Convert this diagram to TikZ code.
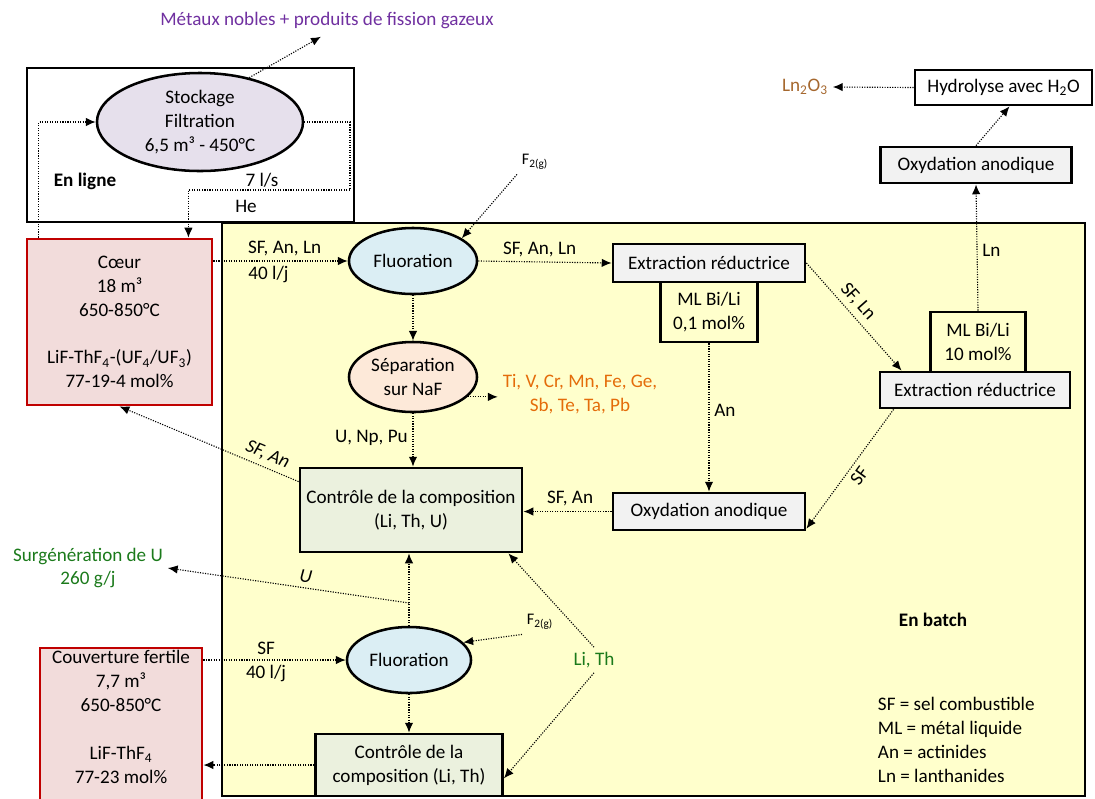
\documentclass[tikz,border=0pt]{standalone}
\usepackage{fontspec}
\setmainfont{Carlito}
\usetikzlibrary{shapes.geometric,arrows.meta}

\definecolor{jaune}{HTML}{FFFFCC}
\definecolor{rose}{HTML}{F2DCDB}
\definecolor{rouge}{HTML}{C00000}
\definecolor{lavande}{HTML}{E6E0EC}
\definecolor{bleuclair}{HTML}{DBEEF4}
\definecolor{peche}{HTML}{FDE9D9}
\definecolor{vertclair}{HTML}{EBF1DE}
\definecolor{grisclair}{HTML}{F2F2F2}
\definecolor{mauve}{HTML}{7030A0}
\definecolor{orangetxt}{HTML}{E46C0A}
\definecolor{verttxt}{HTML}{1B7A1B}
\definecolor{brun}{HTML}{A5672E}

\tikzset{
  every node/.style={font=\fontsize{13.6}{17}\selectfont},
  bold/.style={font=\fontsize{13.6}{17}\selectfont\bfseries},
  slant/.style={font=\fontsize{13.6}{17}\selectfont\itshape},
  small/.style={font=\fontsize{11.5}{13}\selectfont},
  proc/.style={shape=ellipse,draw=black,line width=1.8pt,inner sep=0pt,align=center},
  unit/.style={shape=rectangle,draw=black,line width=2pt,inner sep=0pt,align=center},
  tank/.style={shape=rectangle,draw=rouge,fill=rose,line width=2pt,inner sep=0pt,align=center},
  frame/.style={draw=black,line width=2pt},
  flow/.style={densely dotted,line width=0.8pt,-{Latex[length=7pt,width=6pt]}},
}

\begin{document}
\begin{tikzpicture}[x=0.025cm,y=-0.025cm]
\useasboundingbox (0,0) rectangle (1095,798);

% cadres
\draw[frame,fill=jaune] (222,223) rectangle (1085,796);
\draw[frame] (27,68) rectangle (354,222);

% en ligne
\node[proc,fill=lavande,minimum width=5.15cm,minimum height=2.45cm] (stock) at (200,122) {Stockage\\Filtration\\6,5 m³ - 450°C};
\node[text=mauve] (metaux) at (327,20) {Métaux nobles + produits de fission gazeux};
\node[bold] (enligne) at (85,181) {En ligne};
\node (debit) at (262,180) {7 l/s};
\node (he) at (246,206) {He};
\coordinate (c7) at (350,190);

% reservoirs
\node[tank,minimum width=4.625cm,minimum height=4.15cm] (coeur) at (119.5,322) {Cœur\\18 m³\\650-850°C\\[17pt]LiF-ThF\textsubscript{4}-(UF\textsubscript{4}/UF\textsubscript{3})\\77-19-4 mol\%};
\node[tank,minimum width=4.05cm,minimum height=4.05cm] (couv) at (121,729) {Couverture fertile\\7,7 m³\\650-850°C\\[17pt]LiF-ThF\textsubscript{4}\\77-23 mol\%\\\mbox{}};

% sel combustible
\node[small] (f2a) at (535,162) {F\textsubscript{2(g)}};
\node[proc,fill=bleuclair,minimum width=3.2cm,minimum height=1.65cm] (fluo1) at (413,261) {Fluoration};
\node[proc,fill=peche,minimum width=3.2cm,minimum height=1.75cm] (sep) at (413,377) {Séparation\\sur NaF};
\node[text=orangetxt,align=center] (tiv) at (580,394) {Ti, V, Cr, Mn, Fe, Ge,\\Sb, Te, Ta, Pb};
\node[unit,fill=vertclair,minimum width=5.55cm,minimum height=2.1cm] (ctrl1) at (411,510) {Contrôle de la composition\\(Li, Th, U)};
\node[unit,fill=grisclair,minimum width=4.8cm,minimum height=0.95cm] (extr1) at (709,263) {Extraction réductrice};
\node[unit,fill=jaune,minimum width=2.425cm,minimum height=1.5cm] (ml1) at (709,312) {ML Bi/Li\\0,1 mol\%};
\node[unit,fill=grisclair,minimum width=4.8cm,minimum height=0.925cm] (oxy1) at (709,511.5) {Oxydation anodique};
\node[unit,fill=jaune,minimum width=2.375cm,minimum height=1.5cm] (ml2) at (978,342) {ML Bi/Li\\10 mol\%};
\node[unit,fill=grisclair,minimum width=4.75cm,minimum height=0.9cm] (extr2) at (975,390) {Extraction réductrice};
\node[unit,fill=grisclair,minimum width=4.775cm,minimum height=0.9cm] (oxy2) at (976,165) {Oxydation anodique};
\node[unit,fill=white,minimum width=4.425cm,minimum height=0.875cm] (hydro) at (1003.5,87.5) {Hydrolyse avec H\textsubscript{2}O};
\node[text=brun] (ln) at (805,87) {Ln\textsubscript{2}O\textsubscript{3}};

% couverture
\node[text=verttxt,align=center] (surg) at (88,568) {Surgénération de U\\260 g/j};
\coordinate (uj) at (409,603);
\node[proc,fill=bleuclair,minimum width=3.1cm,minimum height=1.65cm] (fluo2) at (409,660) {Fluoration};
\node[small] (f2b) at (540,622) {F\textsubscript{2(g)}};
\node[unit,fill=vertclair,minimum width=4.675cm,minimum height=1.55cm] (ctrl2) at (409,765) {Contrôle de la\\composition (Li, Th)};
\node[text=verttxt] (lith) at (594,660) {Li, Th};

\node[bold] (batch) at (933,620) {En batch};
\node[anchor=west,align=left] (legende) at (873,740) {SF = sel combustible\\ML = métal liquide\\An = actinides\\Ln = lanthanides};

% connexions
\draw[flow,shorten >=5pt] (stock.42) -- (metaux.south);
\draw[flow] ([xshift=0.33cm]coeur.north west) |- (stock.west);
\draw[flow] (stock.east) -| (c7) -| ([xshift=-0.625cm]coeur.north east);
\draw[flow] (f2a.south west) -- (fluo1.25);
\draw[flow] (coeur.east |- fluo1.west) -- node[above,pos=.53] {SF, An, Ln} node[below,pos=.41] {40 l/j} (fluo1.west);
\draw[flow] (fluo1.east) -- node[above,pos=.46] {SF, An, Ln} (extr1.west);
\draw[flow] (fluo1.south) -- (sep.north);
\draw[flow] (sep.-20) -- (sep.-20 -| tiv.west);
\draw[flow] (sep.south) -- node[left,pos=.46] {U, Np, Pu} (sep.south |- ctrl1.north);
\draw[flow] ([yshift=-0.375cm]ctrl1.north west) -- node[sloped,above,pos=.2,slant] {SF, An} (coeur.south);
\draw[flow] (extr1.east) -- node[sloped,above,pos=.44] {SF, Ln} ([xshift=0.575cm]extr2.north west);
\draw[flow] (ml1.south) -- node[right,pos=.45] {An} (oxy1.north);
\draw[flow] (oxy1.west) -- node[above,pos=.47] {SF, An} (oxy1.west -| ctrl1.east);
\draw[flow] ([xshift=0.375cm]extr2.south west) -- node[sloped,below,pos=.5] {SF} (oxy1.-10);
\draw[flow] (ml2.north) -- node[right,pos=.48] {Ln} (oxy2.south);
\draw[flow] (oxy2.north) -- ([xshift=0.15cm]hydro.south);
\draw[flow] (hydro.west) -- (ln.east);
\draw[flow] (uj) -- node[sloped,above,pos=.435,slant] {U} (surg.east);
\draw[flow] (fluo2.north) -- (fluo2.north |- ctrl1.south);
\draw[flow] (couv.east |- fluo2.west) -- node[above,pos=.44] {SF} node[below,pos=.44] {40 l/j} (fluo2.west);
\draw[flow] (f2b.south west) -- (fluo2.18);
\draw[flow] (fluo2.south) -- (ctrl2.north);
\draw[flow] (ctrl2.west) -- (ctrl2.west -| couv.east);
\draw[flow] (lith.north) -- ([xshift=-0.375cm]ctrl1.south east);
\draw[flow] (lith.south) -- (ctrl2.-8);
\end{tikzpicture}
\end{document}
